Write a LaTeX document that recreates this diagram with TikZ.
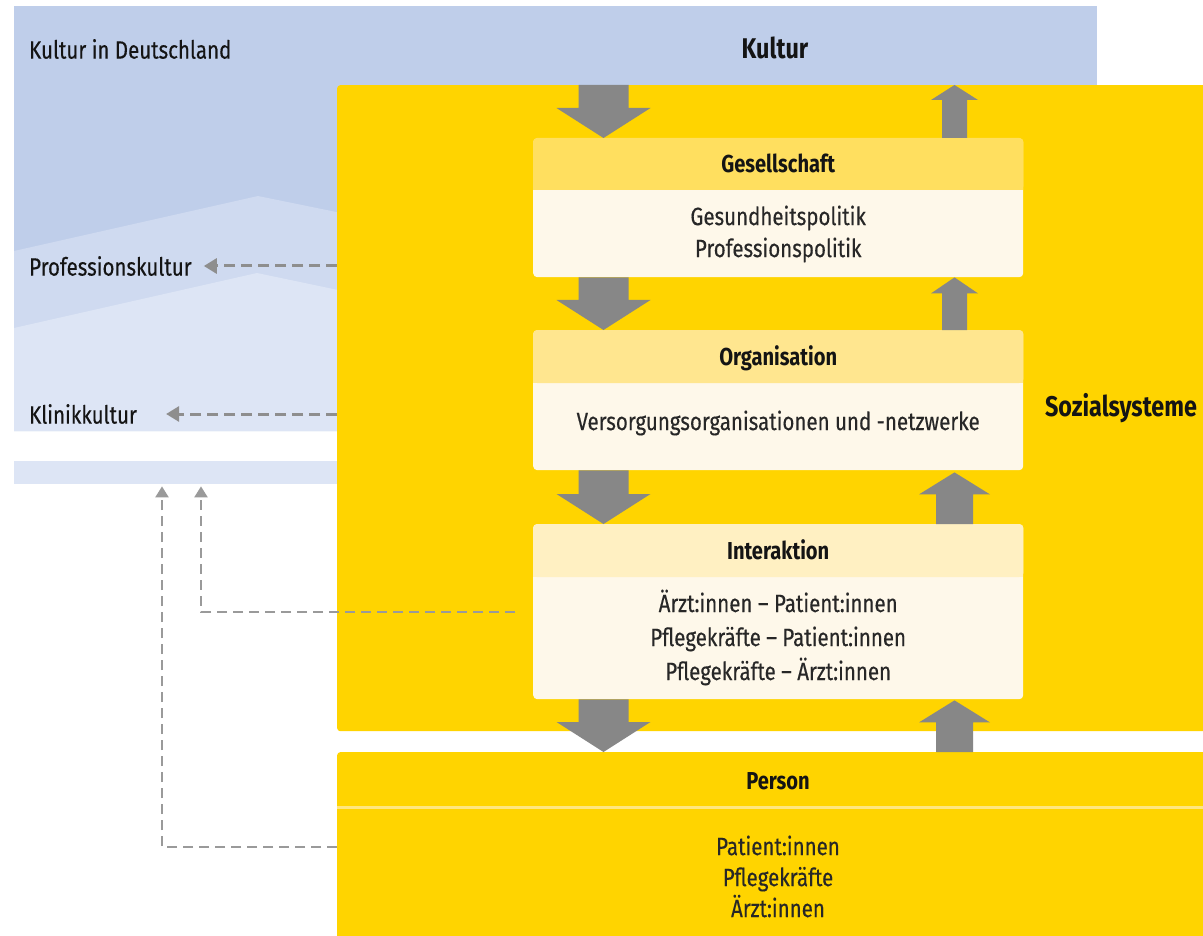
\documentclass[tikz,border=0pt]{standalone}
\usepackage{fontspec}
\setmainfont{Fira Sans}[FakeStretch=0.82]
\newfontfamily\regf{Fira Sans}[FakeStretch=0.82,FakeBold=0.35]
\usetikzlibrary{arrows.meta,calc}
\definecolor{kdark}{HTML}{BFCEEA}
\definecolor{kmid}{HTML}{CFDAF0}
\definecolor{klight}{HTML}{DDE5F5}
\definecolor{ygold}{HTML}{FFD400}
\definecolor{hA}{HTML}{FFDF5F}
\definecolor{hB}{HTML}{FFE68F}
\definecolor{hC}{HTML}{FFF0C2}
\definecolor{bodycol}{HTML}{FEF8EA}
\definecolor{agray}{HTML}{878787}
\definecolor{dgray}{HTML}{8E8E8E}
\definecolor{dgrayv}{HTML}{9A9A9A}
\definecolor{txt}{HTML}{141414}
\definecolor{sepcol}{HTML}{FFE680}
\newcommand\downblock[5]{%
  \fill[agray] let \p1=#1, \p2=#2 in
    (\x1-#3,\y1) -- (\x1-#3,\y2+#5) -- (\x1-#4,\y2+#5) -- (\x1,\y2)
    -- (\x1+#4,\y2+#5) -- (\x1+#3,\y2+#5) -- (\x1+#3,\y1) -- cycle;}
\newcommand\upblock[5]{%
  \fill[agray] let \p1=#1, \p2=#2 in
    (\x1-#3,\y1) -- (\x1-#3,\y2-#5) -- (\x1-#4,\y2-#5) -- (\x1,\y2)
    -- (\x1+#4,\y2-#5) -- (\x1+#3,\y2-#5) -- (\x1+#3,\y1) -- cycle;}
\begin{document}
\begin{tikzpicture}[x=1pt,y=-1pt,
  lbl/.style={inner sep=0pt,text=txt,font=\regf\fontsize{25}{30}\selectfont},
  hd/.style={inner sep=0pt,text=txt,font=\fontsize{24.5}{30}\selectfont\bfseries},
  big/.style={inner sep=0pt,text=txt,font=\fontsize{28.5}{30}\selectfont\bfseries},
  bd/.style={inner sep=0pt,text=txt!92,align=center,font=\regf\fontsize{25}{33}\selectfont},
  ybox/.style={fill=ygold,rounded corners=3pt,inner sep=0pt,anchor=north west},
  ibox/.style={fill=bodycol,rounded corners=4pt,inner sep=0pt,anchor=north west,minimum width=490pt},
  dconn/.style={draw=dgray,line width=3pt,dash pattern=on 11pt off 6pt,-{Triangle[length=13pt,width=15pt]}},
  dconnv/.style={draw=dgrayv,line width=2.3pt,dash pattern=on 10pt off 6pt,-{Triangle[length=11pt,width=13pt]}}
]
\useasboundingbox (0,0) rectangle (1203,936);
\fill[white] (0,0) rectangle (1203,936);
% culture layers
\node[fill=kdark,inner sep=0pt,anchor=north west,minimum width=1083pt,minimum height=425pt] (kultur) at (14,6) {};
\fill[kmid] (14,251) -- (258,196) -- (400,225) -- (400,431) -- (14,431) -- cycle;
\fill[klight] (14,328) -- (257,273) -- (400,303) -- (400,431) -- (14,431) -- cycle;
\node[fill=klight,inner sep=0pt,anchor=north west,minimum width=386pt,minimum height=23pt] (band) at (14,461) {};
\node[lbl,anchor=west] (kid) at (29,49) {Kultur in Deutschland};
\node[big] (kT) at (775,48) {Kultur};
\node[lbl,anchor=west] (prof) at (29,266) {Professionskultur};
\node[lbl,anchor=west] (klin) at (29,414) {Klinikkultur};
% yellow systems
\node[ybox,minimum width=873pt,minimum height=646pt] (soz) at (337,85) {};
\node[ybox,minimum width=873pt,minimum height=190pt] (pers) at (337,752) {};
\draw[sepcol,line width=3pt] (337,807.5) -- (1210,807.5);
\node[big] (sozT) at (1121,408) {Sozialsysteme};
\node[hd] (persT) at (778,781) {Person};
\node[bd] (persB) at (778,876.5) {Patient:innen\\[-2pt]Pflegekräfte\\[-2pt]Ärzt:innen};
% inner boxes
\node[ibox,minimum height=139pt] (ges) at (533,138) {};
\fill[hA,rounded corners=4pt] (ges.north west) rectangle ($(ges.north east)+(0,52)$);
\fill[hA] ($(ges.north west)+(0,42)$) rectangle ($(ges.north east)+(0,52)$);
\node[hd] (gesT) at ($(ges.north)+(0,25)$) {Gesellschaft};
\node[bd] (gesB) at ($(ges.north)+(0,96)$) {Gesundheitspolitik\\[-1pt]Professionspolitik};
\node[ibox,minimum height=140pt] (org) at (533,330) {};
\fill[hB,rounded corners=4pt] (org.north west) rectangle ($(org.north east)+(0,53)$);
\fill[hB] ($(org.north west)+(0,43)$) rectangle ($(org.north east)+(0,53)$);
\node[hd] (orgT) at ($(org.north)+(0,28)$) {Organisation};
\node[bd] (orgB) at ($(org.north)+(0,93)$) {Versorgungsorganisationen und -netzwerke};
\node[ibox,minimum height=175pt] (int) at (533,524) {};
\fill[hC,rounded corners=4pt] (int.north west) rectangle ($(int.north east)+(0,53)$);
\fill[hC] ($(int.north west)+(0,43)$) rectangle ($(int.north east)+(0,53)$);
\node[hd] (intT) at ($(int.north)+(0,26)$) {Interaktion};
\node[bd] (intB) at ($(int.north)+(0,113.5)$) {Ärzt:innen – Patient:innen\\[1pt]Pflegekräfte – Patient:innen\\[1pt]Pflegekräfte – Ärzt:innen};
% block arrows
\coordinate (dx) at (603.5,0);
\coordinate (ux) at (954.5,0);
\downblock{(dx |- soz.north)}{(dx |- ges.north)}{25pt}{47pt}{30pt}
\downblock{(dx |- ges.south)}{(dx |- org.north)}{25pt}{47pt}{30pt}
\downblock{(dx |- org.south)}{(dx |- int.north)}{25pt}{47pt}{30pt}
\downblock{(dx |- int.south)}{(dx |- pers.north)}{25pt}{47pt}{30pt}
\upblock{(ux |- ges.north)}{(ux |- soz.north)}{12.5pt}{23.5pt}{15pt}
\upblock{(ux |- org.north)}{(ux |- ges.south)}{12.5pt}{23.5pt}{16pt}
\upblock{(ux |- int.north)}{($(ux |- org.south)+(0,2)$)}{18.5pt}{35.5pt}{22pt}
\upblock{(ux |- pers.north)}{($(ux |- int.south)+(0,1)$)}{18.5pt}{35.5pt}{22pt}
% dashed connectors
\draw[dconn] (soz.west |- prof.east) -- ([xshift=12pt]prof.east);
\draw[dconn] (soz.west |- klin.east) -- ([xshift=29pt]klin.east);
\draw[dconnv] ([xshift=-18pt]int.west) -| ([xshift=187pt,yshift=-2pt]band.south west);
\draw[dconnv] (pers.west) -| ([xshift=148pt,yshift=-2pt]band.south west);
\end{tikzpicture}
\end{document}
